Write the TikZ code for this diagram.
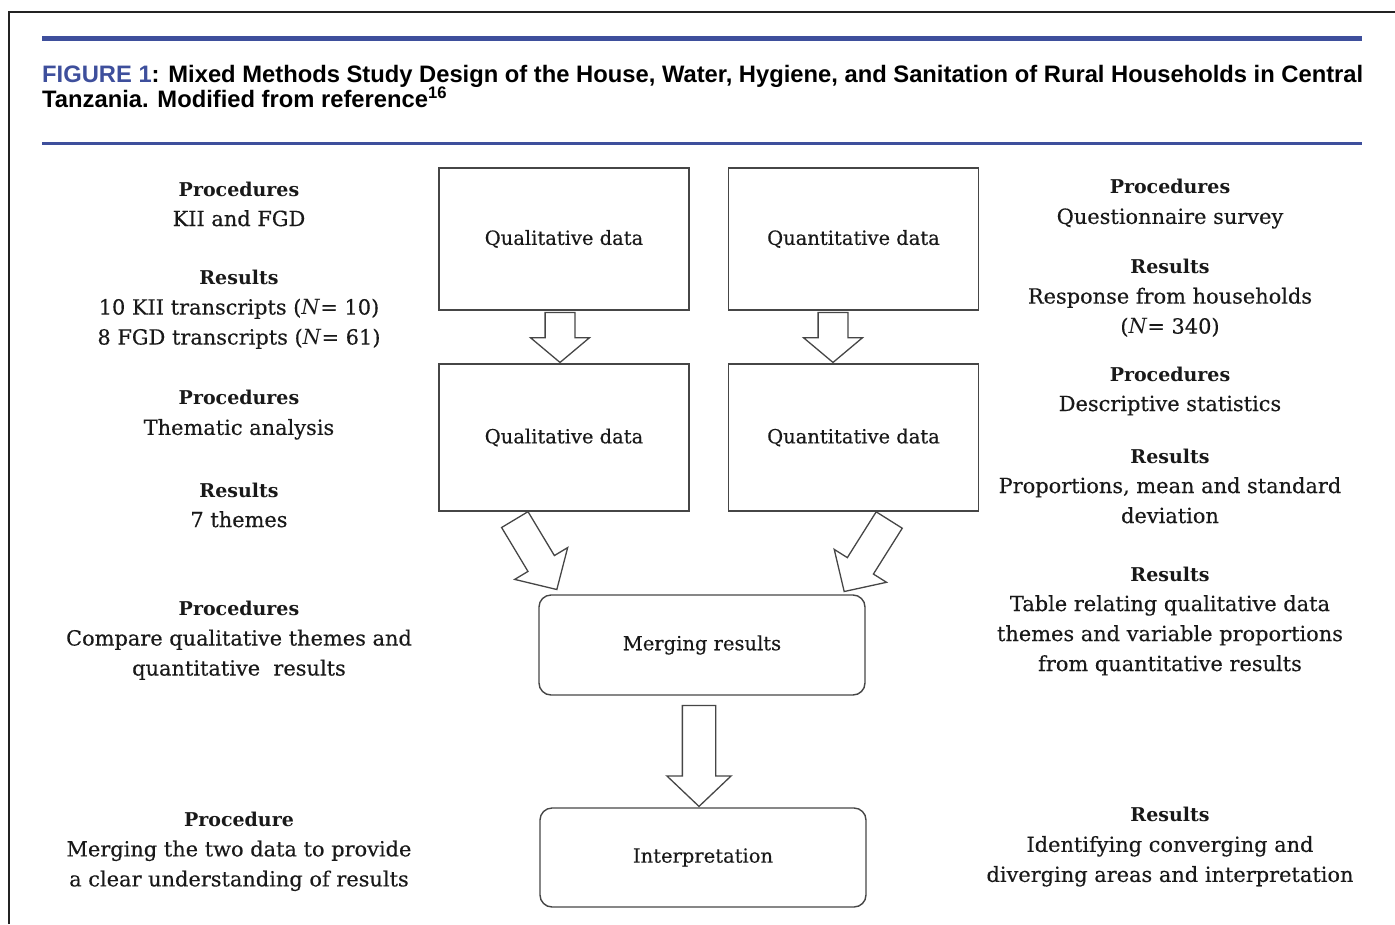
\documentclass[tikz,border=0pt]{standalone}
\usepackage{fontspec}
\setmainfont{DejaVu Serif}[UprightFeatures={FakeBold=0.35}]
\newfontfamily\titlefont[FakeStretch=0.998]{Liberation Sans}
\usetikzlibrary{shapes.arrows,calc}
\definecolor{jblue}{RGB}{62,79,156}
\definecolor{framec}{RGB}{35,35,35}
\definecolor{boxline}{RGB}{70,70,70}
\definecolor{txt}{RGB}{25,25,25}
\newcommand\hdr[1]{{\fontsize{19}{30}\selectfont\bfseries #1}}
\begin{document}
\begin{tikzpicture}[x=1pt,y=1pt,
  side/.style={align=center, inner sep=0pt, text=txt, font=\fontsize{20.9}{30}\selectfont},
  databox/.style={draw=boxline, line width=1.4pt, minimum width=250pt, inner sep=0pt, text=txt, font=\fontsize{19.5}{24}\selectfont},
  roundbox/.style={draw=boxline, line width=1.4pt, rounded corners=12pt, minimum width=326pt, minimum height=100pt, inner sep=0pt, text=txt, font=\fontsize{19.5}{24}\selectfont},
  blockarrow/.style={single arrow, draw=boxline, line width=1.3pt, fill=white, inner xsep=0pt, anchor=tip},
  titletext/.style={anchor=base west, inner sep=0pt, font=\titlefont\bfseries\fontsize{23.8}{25}\selectfont, text=black}
]
\useasboundingbox (0,0) rectangle (1395,-924);
% outer frame
\draw[framec, line width=2.5pt] (9,-924) -- (9,-12) -- (1396,-12);
% blue rules
\draw[jblue, line width=5pt] (42,-38.5) -- (1362,-38.5);
\draw[jblue, line width=3pt] (42,-143.5) -- (1362,-143.5);
% title
\node[titletext] (t1) at (42,-82.5) {\textcolor{jblue}{FIGURE 1}: Mixed Methods Study Design of the House, Water, Hygiene, and Sanitation of Rural Households in Central};
\node[titletext] (t2) at (42,-107.5) {Tanzania. Modified from reference\textsuperscript{16}};

% boxes
\node[databox, minimum height=142pt] (qa) at (564,-239) {Qualitative data};
\node[databox, minimum height=142pt] (na) at (853.5,-239) {Quantitative data};
\node[databox, minimum height=147pt] (qb) at (564,-437.5) {Qualitative data};
\node[databox, minimum height=147pt] (nb) at (853.5,-437.5) {Quantitative data};
\node[roundbox] (mr) at (702,-645) {Merging results};
\node[roundbox, minimum height=99pt] (ip) at (703,-857.5) {Interpretation};

% block arrows (placed by their tips)
\node[blockarrow, inner ysep=14.25pt, minimum height=50pt, single arrow head extend=14.5pt, single arrow tip angle=100, rotate=-90]
  (a1) at ($(qb.north)+(-4,0)$) {};
\node[blockarrow, inner ysep=14.25pt, minimum height=50pt, single arrow head extend=14.5pt, single arrow tip angle=100, rotate=-90]
  (a2) at ($(nb.north)+(-20.5,0)$) {};
\node[blockarrow, inner ysep=14.75pt, minimum height=81.6pt, single arrow head extend=15.5pt, single arrow tip angle=91, rotate=-59]
  (a3) at ($(mr.north west)+(19,4)$) {};
\node[blockarrow, inner ysep=14.75pt, minimum height=84.5pt, single arrow head extend=15.5pt, single arrow tip angle=91, rotate=-122.2]
  (a4) at ($(mr.north east)+(-22,2)$) {};
\node[blockarrow, inner ysep=16pt, minimum height=101pt, single arrow head extend=15.5pt, single arrow tip angle=93, rotate=-90]
  (a5) at ($(ip.north)+(-4,0)$) {};

% left column
\node[side] (l1) at (239,-204) {\hdr{Procedures}\\KII and FGD};
\node[side] (l2) at (239,-309.5) {\hdr{Results}\\10 KII transcripts (\textit{N}= 10)\\8 FGD transcripts (\textit{N}= 61)};
\node[side] (l3) at (239,-415) {\hdr{Procedures}\\Thematic analysis};
\node[side] (l4) at (239,-505) {\hdr{Results}\\7 themes};
\node[side] (l5) at (239,-640.5) {\hdr{Procedures}\\Compare qualitative themes and\\quantitative\ \ results};
\node[side] (l6) at (239,-851.5) {\hdr{Procedure}\\Merging the two data to provide\\a clear understanding of results};

% right column
\node[side] (r1) at (1170,-204) {\hdr{Procedures}\\Questionnaire survey};
\node[side] (r2) at (1170,-298) {\hdr{Results}\\Response from households\\(\textit{N}= 340)};
\node[side] (r3) at (1170,-391) {\hdr{Procedures}\\Descriptive statistics};
\node[side] (r4) at (1170,-486) {\hdr{Results}\\Proportions, mean and standard\\deviation};
\node[side] (r5) at (1170,-621) {\hdr{Results}\\Table relating qualitative data\\themes and variable proportions\\from quantitative results};
\node[side] (r6) at (1170,-847) {\hdr{Results}\\Identifying converging and\\diverging areas and interpretation};
\end{tikzpicture}
\end{document}
